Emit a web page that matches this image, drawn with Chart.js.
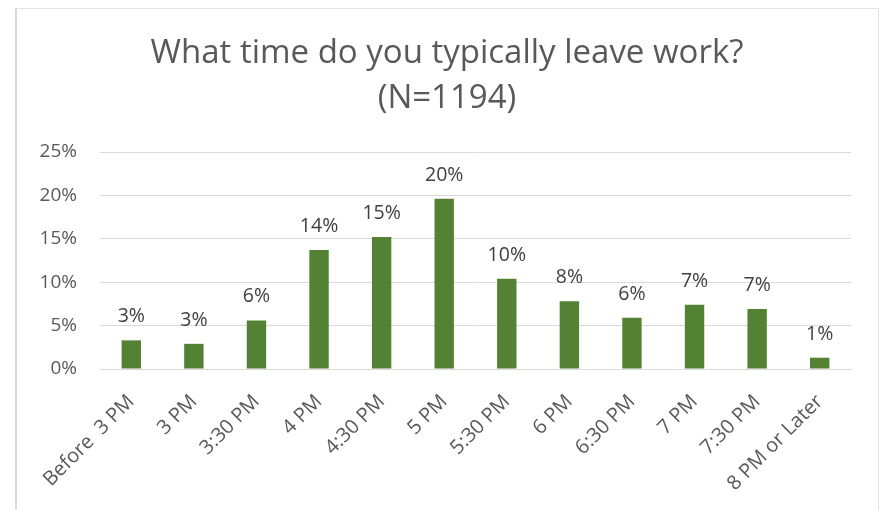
<!DOCTYPE html>
<html>
<head>
<meta charset="utf-8">
<script src="https://cdn.jsdelivr.net/npm/chart.js@4/dist/chart.umd.min.js"></script>
<style>
    html, body { margin: 0; padding: 0; background: #fff; overflow: hidden; }
    #frame {
        position: absolute; left: 15px; top: 8px;
        width: 861px; height: 600px;
        border: 1px solid #e3e3e3; border-left: 2px solid #d9d9d9;
    }
    #wrap { position: absolute; left: 0; top: 0; width: 880px; height: 510px; }
</style>
</head>
<body>
<div id="frame"></div>
<div id="wrap"><canvas id="leaveChart" width="880" height="510"></canvas></div>
<script>
// Horario de salida del trabajo (porcentaje de respuestas)
const categories = ['Before  3 PM', '3 PM', '3:30 PM', '4 PM', '4:30 PM', '5 PM',
    '5:30 PM', '6 PM', '6:30 PM', '7 PM', '7:30 PM', '8 PM or Later'];
const shares = [3.3, 2.9, 5.6, 13.7, 15.2, 19.6, 10.4, 7.8, 5.9, 7.4, 6.9, 1.3];
const titleLines = ['What time do you typically leave work?', '(N=1194)'];

const FONT = "'Open Sans', 'DejaVu Sans', sans-serif";

// Título centrado sobre el marco completo, no sobre el área del gráfico
const frameTitle = {
    id: 'frameTitle',
    afterDraw(chart) {
        const ctx = chart.ctx;
        ctx.save();
        ctx.font = '33px ' + FONT;
        ctx.fillStyle = '#595959';
        ctx.textAlign = 'center';
        ctx.textBaseline = 'alphabetic';
        titleLines.forEach((line, i) => ctx.fillText(line, 447, 63 + i * 45));
        ctx.restore();
    }
};

// Etiquetas de valor encima de cada barra
const barLabels = {
    id: 'barLabels',
    afterDatasetsDraw(chart) {
        const ctx = chart.ctx;
        const meta = chart.getDatasetMeta(0);
        ctx.save();
        ctx.font = '19.5px ' + FONT;
        ctx.fillStyle = '#404040';
        ctx.textAlign = 'center';
        ctx.textBaseline = 'alphabetic';
        meta.data.forEach((bar, i) => {
            const v = chart.data.datasets[0].data[i];
            ctx.fillText(Math.round(v) + '%', bar.x, bar.y - 18);
        });
        ctx.restore();
    }
};

new Chart(document.getElementById('leaveChart'), {
    type: 'bar',
    data: {
        labels: categories,
        datasets: [{
            data: shares,
            backgroundColor: '#548235',
            barPercentage: 0.31,
            categoryPercentage: 1
        }]
    },
    options: {
        responsive: false,
        animation: false,
        layout: { padding: { left: 0, right: 29, top: 152, bottom: 0 } },
        plugins: {
            legend: { display: false },
            tooltip: { enabled: false },
            title: { display: false }
        },
        scales: {
            x: {
                grid: { display: false, drawTicks: false },
                border: { color: '#d9d9d9', width: 1 },
                ticks: {
                    color: '#595959',
                    font: { family: FONT, size: 20 },
                    maxRotation: 45,
                    minRotation: 45,
                    autoSkip: false,
                    padding: 21
                },
                afterFit(scale) { scale.height = 141; }
            },
            y: {
                min: 0,
                max: 25,
                grid: { color: '#d9d9d9', lineWidth: 1, drawTicks: false },
                border: { display: false },
                ticks: {
                    stepSize: 5,
                    color: '#595959',
                    font: { family: FONT, size: 19 },
                    padding: 23,
                    callback: v => v + '%'
                },
                afterFit(scale) { scale.width = 100; }
            }
        }
    },
    plugins: [barLabels, frameTitle]
});
</script>
</body>
</html>
